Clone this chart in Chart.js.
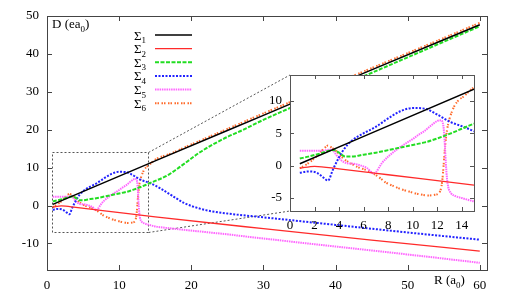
<!DOCTYPE html>
<html><head><meta charset="utf-8">
<script src="https://cdn.jsdelivr.net/npm/chart.js@4/dist/chart.umd.min.js"></script>
<style>
html,body{margin:0;padding:0;background:#fff;}
#wrap{position:relative;width:510px;height:298px;overflow:hidden;}
#main{position:absolute;left:0;top:0;}
#inset{position:absolute;left:250px;top:55px;}
</style></head><body>
<div id="wrap">
<canvas id="main" width="510" height="298"></canvas>
<canvas id="inset" width="240" height="190"></canvas>
</div>
<script>
// ---- data ----
const seriesNames = ["1","2","3","4","5","6"];

const sigma1R = [0.8, 15, 30, 45, 60];
const sigma1D = [0.3, 11.8, 23.8, 35.8, 47.7];

const sigma2R = [0.8, 2, 4, 8, 15, 30, 45, 60];
const sigma2D = [-0.4, -0.1, -0.5, -1.4, -3.0, -6.1, -9.1, -12.0];

const sigma3R = [0.8,1.5,2.5,3.2,3.6,4.0,4.5,5,6,7,8,9,10,11,12,13,14,15,16,17,18,19,20,21,22,23,25,27,30,35,40,50,60];
const sigma3D = [1.1,1.4,1.9,2.3,2.4,2.0,1.4,1.4,1.7,2.0,2.4,2.8,3.2,3.6,4.2,4.9,5.7,6.5,7.3,8.3,9.6,11.0,12.4,13.8,15.0,16.1,18.1,19.8,22.6,26.8,30.9,39.1,47.3];

const sigma4R = [0.8,1.5,2.2,2.7,3.1,3.5,4.0,4.5,5,6,7,8,9,10,11,12,13,14,15,16,17,18,19,20,22,25,30,40,50,60];
const sigma4D = [-1.1,-0.9,-1.1,-1.8,-2.3,-0.6,1.3,2.8,3.8,5.0,6.0,7.3,8.4,8.9,8.8,7.9,6.8,6.1,5.3,4.2,3.0,1.8,0.7,-0.1,-1.2,-2.1,-3.1,-5.1,-7.1,-9.0];

const sigma5R = [0.8,1.5,2.5,3.0,3.4,3.8,4.2,4.6,5.2,5.8,6.3,6.8,7.0,7.5,8,8.5,9,9.5,10,10.5,11,11.5,12,12.3,12.5,12.6,12.7,12.8,12.9,13.1,13.5,14,15,17,20,25,30,40,50,60];
const sigma5D = [2.3,2.3,2.3,2.4,2.5,1.6,0.8,0.4,0.3,0.0,-0.4,-1.2,-1.0,0.4,1.4,2.2,2.9,3.5,4.1,4.8,5.4,6.2,6.9,7.0,6.2,4.0,0.5,-2.0,-3.3,-4.2,-4.7,-5.0,-5.5,-6.0,-6.6,-7.6,-8.7,-10.8,-12.9,-15.1];

const sigma6R = [0.8,1.5,2.2,2.7,3.1,3.4,3.8,4.3,4.9,5.5,6.5,7.2,7.8,8.5,9.0,9.7,10.5,11.3,11.8,12.1,12.3,12.4,12.5,12.6,12.7,12.8,13.0,13.4,13.8,14.1,15,17,20,25,30,40,50,60];
const sigma6D = [-0.4,0.4,1.5,2.5,3.1,2.8,2.2,1.2,0.4,-0.2,-0.9,-1.7,-2.6,-3.2,-3.6,-4.0,-4.4,-4.6,-4.5,-4.3,-3.6,-2.5,-0.5,2.0,4.0,5.5,7.2,9.2,10.2,10.6,12.1,13.6,16.1,20.2,24.3,32.3,40.2,48.2];

const mainXTicks = [0,10,20,30,40,50,60];
const mainYTicks = [-10,0,10,20,30,40,50];
const insetXTicks = [0,2,4,6,8,10,12,14];
const insetYTicks = [-5,0,5,10];
const zoomBoxR = [0.7, 14];
const zoomBoxD = [-7, 14];

// ---- styles ----
const FONT = "'Liberation Serif','Times New Roman',serif";
Chart.defaults.font.family = FONT;
Chart.defaults.font.size = 13;
Chart.defaults.color = '#000';

const styles = [
  {color:'#000000', width:1.5, dash:[]},
  {color:'#ff2a2a', width:1.3, dash:[]},
  {color:'#22dd22', width:2, dash:[4,1.5]},
  {color:'#2222ff', width:2, dash:[2,1.5]},
  {color:'#ff66ff', width:2, dash:[1.5,0.8]},
  {color:'#ff6a2a', width:2, dash:[1.5,1,1.5,2.5]}
];
const allR = [sigma1R, sigma2R, sigma3R, sigma4R, sigma5R, sigma6R];
const allD = [sigma1D, sigma2D, sigma3D, sigma4D, sigma5D, sigma6D];

function makeDatasets(){
  return allR.map((rs, k) => ({
    label: 'Σ' + seriesNames[k],
    data: rs.map((r, i) => ({x: r, y: allD[k][i]})),
    borderColor: styles[k].color,
    borderWidth: styles[k].width,
    borderDash: styles[k].dash,
    pointRadius: 0,
    fill: false,
    cubicInterpolationMode: 'monotone'
  }));
}

function setTicks(arr){ return s => { s.ticks = arr.map(v => ({value: v})); }; }

function drawFrame(chart, xt, yt, len, color){
  const {ctx, chartArea: a, scales: {x, y}} = chart;
  ctx.save();
  ctx.strokeStyle = color; ctx.lineWidth = 1; ctx.setLineDash([]);
  ctx.beginPath();
  xt.forEach(v => {
    const px = Math.round(x.getPixelForValue(v)) + 0.5;
    ctx.moveTo(px, a.bottom); ctx.lineTo(px, a.bottom - len);
    ctx.moveTo(px, a.top); ctx.lineTo(px, a.top + len);
  });
  yt.forEach(v => {
    const py = Math.round(y.getPixelForValue(v)) + 0.5;
    ctx.moveTo(a.left, py); ctx.lineTo(a.left + len, py);
    ctx.moveTo(a.right, py); ctx.lineTo(a.right - len, py);
  });
  ctx.stroke();
  ctx.strokeRect(Math.round(a.left) + 0.5, Math.round(a.top) + 0.5,
                 Math.round(a.right - a.left), Math.round(a.bottom - a.top));
  ctx.restore();
}

function subText(ctx, main, sub, x, y, size){
  ctx.font = size + 'px ' + FONT;
  ctx.fillText(main, x, y);
  const w = ctx.measureText(main).width;
  ctx.font = Math.round(size * 0.72) + 'px ' + FONT;
  ctx.fillText(sub, x + w, y + 3.5);
  return w + ctx.measureText(sub).width;
}

// ---- inset chart ----
const insetPlugin = {
  id: 'insetDeco',
  beforeDraw(chart){
    const {ctx, chartArea: a} = chart;
    ctx.save(); ctx.fillStyle = '#fff';
    ctx.fillRect(a.left, a.top, a.right - a.left, a.bottom - a.top);
    ctx.restore();
  },
  afterDraw(chart){ drawFrame(chart, insetXTicks, insetYTicks, 4, '#555'); }
};

const insetChart = new Chart(document.getElementById('inset'), {
  type: 'line',
  data: {datasets: makeDatasets()},
  options: {
    responsive: false, animation: false, devicePixelRatio: 1,
    layout: {padding: {top: 20, right: 16, left: 0, bottom: 0}},
    plugins: {legend: {display: false}, tooltip: {enabled: false}},
    scales: {
      x: {type: 'linear', min: 0, max: 15, afterBuildTicks: setTicks(insetXTicks),
          grid: {display: false, drawTicks: false}, border: {display: false},
          ticks: {padding: 7, maxRotation: 0, autoSkip: false},
          afterFit: s => { s.height = 34; }},
      y: {type: 'linear', min: -7, max: 14, afterBuildTicks: setTicks(insetYTicks),
          grid: {display: false, drawTicks: false}, border: {display: false},
          ticks: {padding: 8, autoSkip: false},
          afterFit: s => { s.width = 40; }}
    }
  },
  plugins: [insetPlugin]
});

// ---- main chart ----
const mainPlugin = {
  id: 'mainDeco',
  beforeDatasetsDraw(chart){
    const {ctx, scales: {x, y}} = chart;
    const x0 = Math.round(x.getPixelForValue(zoomBoxR[0])) + 0.5, x1 = Math.round(x.getPixelForValue(zoomBoxR[1])) + 0.5;
    const y0 = Math.round(y.getPixelForValue(zoomBoxD[0])) + 0.5, y1 = Math.round(y.getPixelForValue(zoomBoxD[1])) + 0.5;
    ctx.save();
    ctx.strokeStyle = '#555'; ctx.lineWidth = 1; ctx.setLineDash([2, 2]);
    ctx.strokeRect(x0, y1, x1 - x0, y0 - y1);
    // connectors to the inset frame
    const ia = insetChart.chartArea;
    const ox = 250, oy = 55;
    ctx.beginPath();
    ctx.moveTo(x1, y1); ctx.lineTo(ox + ia.left, oy + ia.top);
    ctx.moveTo(x1, y0); ctx.lineTo(ox + ia.left, oy + ia.bottom);
    ctx.stroke();
    ctx.restore();
  },
  afterDraw(chart){
    const {ctx, chartArea: a} = chart;
    drawFrame(chart, mainXTicks, mainYTicks, 5, '#444');
    ctx.save();
    ctx.fillStyle = '#000'; ctx.textBaseline = 'alphabetic'; ctx.textAlign = 'left';
    // axis titles
    let w = subText(ctx, 'D (ea', '0', 52, 28, 13);
    ctx.font = '13px ' + FONT; ctx.fillText(')', 52 + w, 28);
    w = subText(ctx, 'R (a', '0', 434, 284, 13);
    ctx.font = '13px ' + FONT; ctx.fillText(')', 434 + w, 284);
    // legend
    const rowY0 = 35, rowStep = 13.65;
    styles.forEach((s, k) => {
      const yy = rowY0 + rowStep * k;
      ctx.fillStyle = '#000';
      subText(ctx, 'Σ', seriesNames[k], 134, yy + 4.5, 13);
      ctx.strokeStyle = s.color; ctx.lineWidth = s.width; ctx.setLineDash(s.dash);
      ctx.beginPath(); ctx.moveTo(155, yy); ctx.lineTo(192, yy); ctx.stroke();
    });
    ctx.restore();
  }
};

new Chart(document.getElementById('main'), {
  type: 'line',
  data: {datasets: makeDatasets()},
  options: {
    responsive: false, animation: false, devicePixelRatio: 1,
    layout: {padding: {top: 16, right: 23, left: 0, bottom: 0}},
    plugins: {legend: {display: false}, tooltip: {enabled: false}},
    scales: {
      x: {type: 'linear', min: 0, max: 61, afterBuildTicks: setTicks(mainXTicks),
          grid: {display: false, drawTicks: false}, border: {display: false},
          ticks: {padding: 8, maxRotation: 0, autoSkip: false},
          afterFit: s => { s.height = 28; }},
      y: {type: 'linear', min: -17, max: 50, afterBuildTicks: setTicks(mainYTicks),
          grid: {display: false, drawTicks: false}, border: {display: false},
          ticks: {padding: 8, autoSkip: false},
          afterFit: s => { s.width = 47; }}
    }
  },
  plugins: [mainPlugin]
});
</script>
</body></html>
